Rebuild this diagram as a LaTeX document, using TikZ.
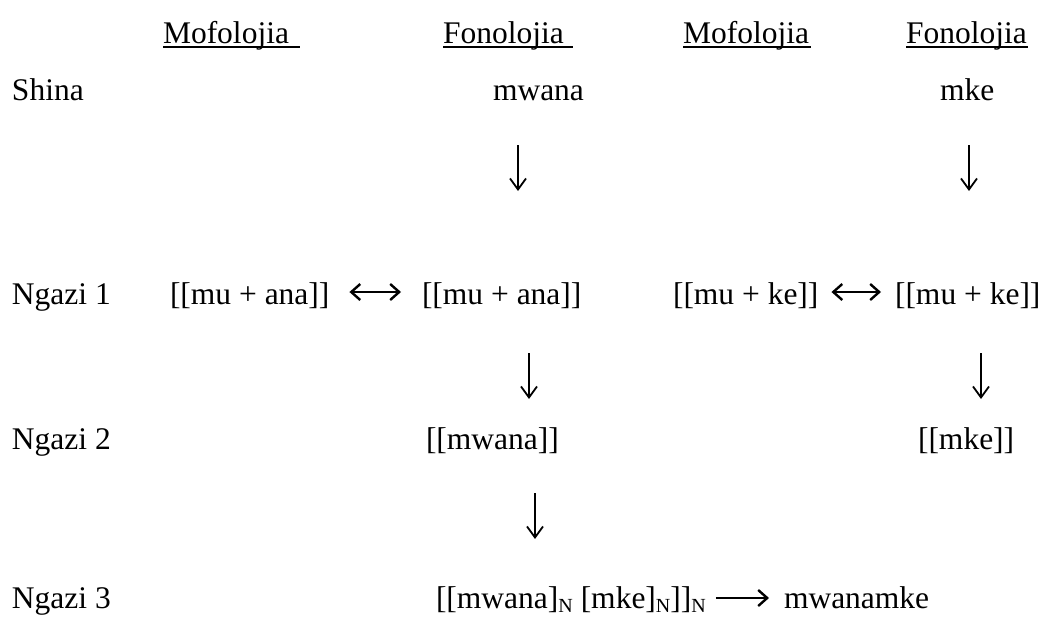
\documentclass[tikz,border=0pt]{standalone}
\usepackage{fontspec}
\setmainfont{Liberation Serif}
\usetikzlibrary{arrows.meta,calc}
\newcommand{\myLowN}{\raisebox{-4pt}{\fontsize{20}{24}\selectfont N}}
\begin{document}
\begin{tikzpicture}[x=1pt,y=-1pt,
  txt/.style={anchor=base west,inner sep=0pt,outer sep=0pt,font=\fontsize{31.5}{38}\selectfont},
  uline/.style={line width=2pt},
  varr/.style={line width=1.8pt,-{Straight Barb[length=11pt,width=16pt]}},
  harr/.style={line width=2.4pt,{Straight Barb[length=9pt,width=16pt]}-{Straight Barb[length=9pt,width=16pt]}},
  rarr/.style={line width=2.4pt,-{Straight Barb[length=9pt,width=16pt]}}]
\useasboundingbox (0,0) rectangle (1043,616);
% headers
\node[txt] (h1) at (163,43) {Mofolojia};
\node[txt] (h2) at (443,43) {Fonolojia};
\node[txt] (h3) at (683,43) {Mofolojia};
\node[txt] (h4) at (906,43) {Fonolojia};
\draw[uline] ([yshift=-4pt]h1.base west) -- ++(137,0);
\draw[uline] ([yshift=-4pt]h2.base west) -- ++(130,0);
\draw[uline] ([yshift=-4pt]h3.base west) -- ++(128,0);
\draw[uline] ([yshift=-4pt]h4.base west) -- ++(122,0);
% row Shina
\node[txt] (shina) at (12,100) {Shina};
\node[txt] (mwana) at (493,100) {mwana};
\node[txt] (mke) at (940,100) {mke};
% row Ngazi 1
\node[txt] (ng1) at (12,304) {Ngazi 1};
\node[txt] (mua1) at (170,304) {[[mu + ana]]};
\node[txt] (mua2) at (422,304) {[[mu + ana]]};
\node[txt] (muk1) at (673,304) {[[mu + ke]]};
\node[txt] (muk2) at (895,304) {[[mu + ke]]};
% row Ngazi 2
\node[txt] (ng2) at (12,449) {Ngazi 2};
\node[txt] (mw2) at (426,449) {[[mwana]]};
\node[txt] (mk2) at (918,449) {[[mke]]};
% row Ngazi 3
\node[txt] (ng3) at (12,608) {Ngazi 3};
\node[txt] (cmp) at (436,608) {[[mwana]\myLowN\ [mke]\myLowN]]\myLowN};
\node[txt] (res) at (784,608) {mwanamke};
% vertical arrows
\coordinate (d1a) at (518,145); \coordinate (d1b) at (518,191);
\coordinate (d2a) at (969,145); \coordinate (d2b) at (969,191);
\coordinate (d3a) at (529,353); \coordinate (d3b) at (529,399);
\coordinate (d4a) at (981,353); \coordinate (d4b) at (981,399);
\coordinate (d5a) at (535,493); \coordinate (d5b) at (535,539);
\draw[varr] (d1a) -- (d1b);
\draw[varr] (d2a) -- (d2b);
\draw[varr] (d3a) -- (d3b);
\draw[varr] (d4a) -- (d4b);
\draw[varr] (d5a) -- (d5b);
% horizontal arrows
\draw[harr] ($(mua1.base east)+(20,-12)$) -- ($(mua2.base west)+(-21,-12)$);
\draw[harr] ($(muk1.base east)+(13,-12)$) -- ($(muk2.base west)+(-14,-12)$);
\draw[rarr] ($(cmp.base east)+(10,-10)$) -- ($(res.base west)+(-15,-10)$);
\end{tikzpicture}
\end{document}
